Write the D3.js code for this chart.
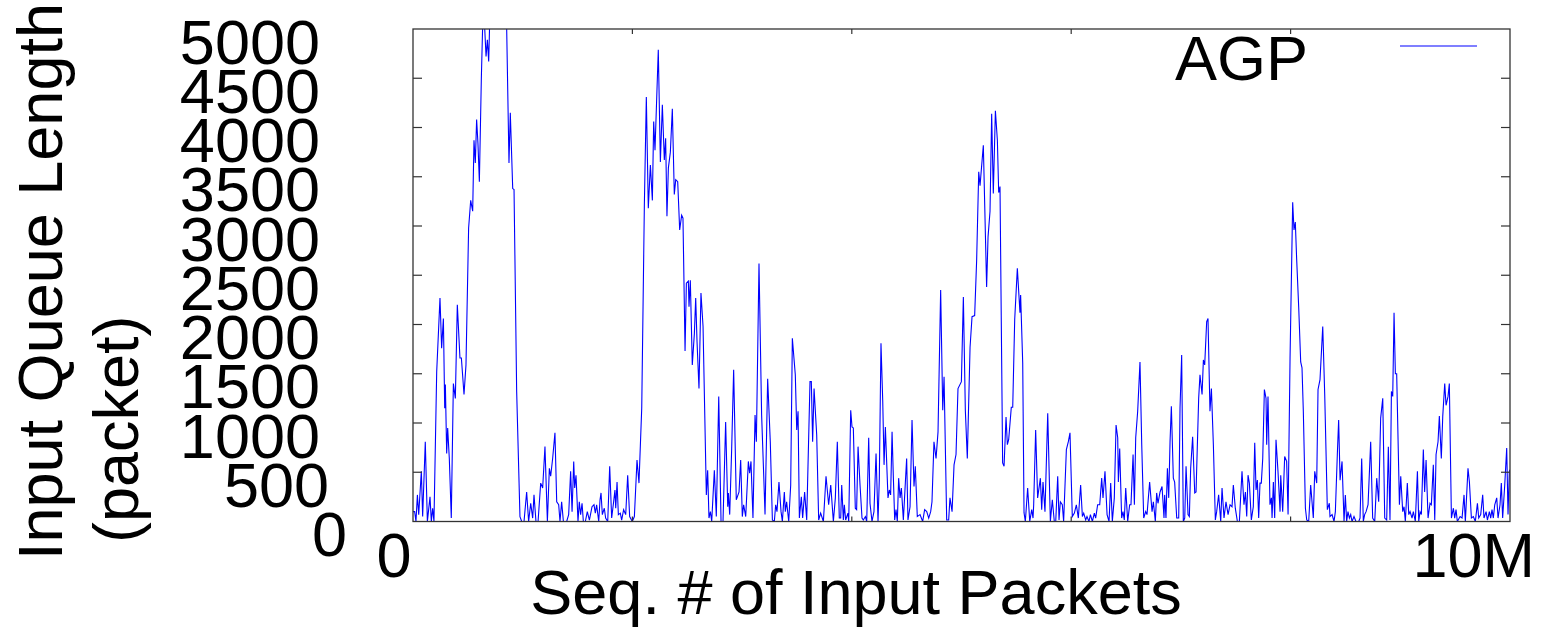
<!DOCTYPE html>
<html><head><meta charset="utf-8">
<script src="https://cdn.jsdelivr.net/npm/d3@7"></script>
<style>
html,body{margin:0;padding:0;background:#fff;}
svg{display:block;font-family:"Liberation Sans",Arial,sans-serif;}
</style></head>
<body><svg id="chart" width="1543" height="629"></svg>
<script>
// ---- data (sequence number in thousands of packets, queue length in packets) ----
const seriesName = "AGP";
const yTickValues = [0,500,1000,1500,2000,2500,3000,3500,4000,4500,5000];
const xTickValues = [0,2000,4000,6000,8000,10000];
const xTickLabels = {0:"0", 10000:"10M"};
const xTitle = "Seq. # of Input Packets";
const yTitleLines = ["Input Queue Length","(packet)"];
const agpPoints = [
[0,100],[15,100],[27,0],[40,270],[52,70],[76,510],[88,50],[112,810],[131,0],[155,250],[167,0],[179,135],[191,0],[216,1520],[246,2270],[261,1760],[277,2060],[289,1150],[295,1390],[307,690],[316,950],[331,640],[349,35],[368,1400],[386,1250],[404,2200],[428,1660],[441,1660],[465,1290],[483,1590],[507,2980],[526,3260],[544,3150],[556,3870],[568,3640],[580,4080],[592,3840],[605,3450],[623,4500],[641,5300],[666,4720],[678,4890],[690,4670],[702,5200],[740,5600],[790,5800],[830,5500],[854,5000],[875,3640],[887,4150],[909,3380],[921,3370],[945,1320],[975,50],[991,0],[1012,0],[1036,300],[1054,0],[1073,185],[1091,35],[1103,270],[1121,0],[1140,0],[1164,390],[1182,340],[1203,760],[1225,0],[1243,540],[1255,460],[1273,640],[1294,900],[1310,200],[1328,170],[1340,0],[1355,200],[1371,0],[1401,0],[1419,70],[1437,510],[1450,100],[1465,610],[1474,340],[1486,470],[1504,0],[1516,200],[1528,70],[1541,185],[1553,0],[1571,0],[1589,100],[1608,15],[1632,150],[1650,170],[1662,85],[1674,170],[1693,0],[1705,220],
[1714,290],[1726,70],[1744,135],[1756,35],[1775,0],[1793,560],[1811,35],[1829,200],[1841,320],[1848,135],[1860,400],[1872,70],[1890,85],[1902,15],[1920,120],[1939,70],[1957,470],[1975,50],[1999,0],[2018,50],[2042,625],[2060,390],[2085,1150],[2109,3210],[2127,4310],[2145,3180],[2164,3620],[2182,3260],[2194,4060],[2206,3770],[2236,4790],[2255,3650],[2273,4230],[2291,3670],[2303,3890],[2315,3100],[2328,3590],[2346,3750],[2364,4190],[2382,3320],[2395,3470],[2413,3450],[2431,2960],[2449,3110],[2461,3080],[2480,1730],[2492,2420],[2510,2440],[2516,2180],[2528,2450],[2546,1590],[2565,1910],[2577,2270],[2589,1830],[2607,1350],[2625,2320],[2644,1980],[2674,270],[2686,520],[2698,35],[2711,100],[2723,0],[2747,520],[2765,50],[2787,1270],[2808,0],[2826,0],[2850,1010],[2869,150],[2875,290],[2887,70],[2905,740],[2923,1540],[2947,220],[2972,300],[2987,625],[3002,50],[3014,170],[3033,50],[3057,610],[3069,490],[3081,610],[3099,35],[3118,1080],[3130,810],[3154,2620],[3178,1080],[3197,470],[3209,70],[3233,1450],[3257,810],[3276,15],[3294,0],[3306,170],[3318,100],[3336,400],[3355,100],[3367,0],[3385,300],
[3394,100],[3406,200],[3425,0],[3443,370],[3458,1860],[3485,1490],[3498,930],[3510,1120],[3522,35],[3540,250],[3552,35],[3570,300],[3589,15],[3619,1420],[3631,1420],[3643,810],[3656,1350],[3680,880],[3698,15],[3716,85],[3741,0],[3765,460],[3789,170],[3808,370],[3832,0],[3850,240],[3868,810],[3886,35],[3899,35],[3908,370],[3923,15],[3932,170],[3944,15],[3965,85],[3972,0],[3990,1130],[4002,960],[4014,950],[4032,135],[4044,120],[4057,760],[4075,370],[4093,35],[4105,15],[4124,50],[4136,0],[4154,850],[4166,185],[4184,0],[4202,100],[4221,690],[4239,0],[4251,440],[4266,1810],[4282,1220],[4294,575],[4306,960],[4330,240],[4342,320],[4354,270],[4367,910],[4379,440],[4391,15],[4403,120],[4415,0],[4427,440],[4440,240],[4452,340],[4470,15],[4488,390],[4500,640],[4512,15],[4531,150],[4549,1030],[4567,355],[4579,560],[4597,50],[4622,70],[4646,0],[4664,120],[4683,100],[4701,35],[4719,100],[4731,200],[4749,810],[4768,640],[4786,910],[4810,2350],[4829,1130],[4841,1470],[4865,15],[4883,15],[4895,240],[4914,100],[4932,575],[4950,680],[4968,1350],[4999,1420],[5017,2280],[5035,1130],[5053,640],[5078,1770],[5096,2080],[5120,2090],[5138,2650],[5157,3550],[5169,3410],[5199,3820],[5229,2380],[5242,2890],[5260,3150],[5275,4140],[5290,3330],[5309,4170],[5327,3870],[5339,3340],[5351,3400],[5375,595],[5388,560],[5406,1060],[5418,780],[5430,830],[5454,1160],[5467,1160],[5485,2050],[5509,2570],[5533,2120],[5539,2300],[5558,1610],[5570,90],[5582,0],
[5603,340],[5622,0],[5640,120],[5652,35],[5658,170],[5676,930],[5694,240],[5719,440],[5731,120],[5743,400],[5761,100],[5786,1100],[5810,0],[5828,220],[5846,0],[5859,0],[5877,460],[5889,15],[5901,200],[5919,170],[5931,0],[5956,730],[5974,810],[5989,900],[6010,50],[6029,85],[6047,170],[6065,35],[6086,370],[6102,50],[6114,85],[6132,15],[6144,50],[6162,0],[6175,70],[6193,0],[6211,85],[6223,35],[6241,170],[6260,170],[6278,440],[6290,240],[6308,510],[6327,70],[6345,0],[6360,390],[6375,0],[6393,240],[6409,980],[6424,850],[6430,400],[6442,740],[6460,35],[6472,100],[6484,15],[6497,340],[6515,0],[6533,170],[6545,170],[6564,680],[6576,170],[6588,850],[6606,1120],[6627,1620],[6643,780],[6661,35],[6679,100],[6691,70],[6715,400],[6737,100],[6749,200],
[6767,0],[6779,290],[6791,185],[6810,300],[6828,355],[6846,35],[6852,270],[6864,35],[6877,540],[6889,240],[6901,810],[6913,1170],[6931,440],[6943,400],[6962,35],[6980,35],[6992,1150],[7007,1690],[7022,0],[7035,35],[7047,560],[7065,70],[7077,50],[7089,540],[7107,860],[7126,290],[7138,300],[7162,1250],[7174,1490],[7193,1290],[7205,1640],[7217,1590],[7235,2030],[7247,2060],[7265,1120],[7278,1350],[7296,780],[7314,15],[7326,100],[7344,270],[7363,0],[7375,340],[7393,35],[7411,200],[7430,70],[7448,170],[7466,150],[7478,370],[7496,135],[7515,0],[7533,0],[7557,510],[7575,170],[7588,300],[7600,50],[7612,470],[7624,390],[7642,15],[7660,150],[7673,800],[7685,320],[7697,420],[7709,35],[7721,390],[7733,390],[7746,640],[7761,1340],[7776,1250],[7782,780],[7794,1270],[7812,170],[7825,240],[7831,35],[7843,400],[7855,35],[7867,830],[7885,510],[7904,100],[7910,470],[7928,100],[7946,660],[7964,610],[7977,70],[7995,1660],[8019,3240],[8031,2960],[8043,3040],[8055,2670],[8074,2170],[8092,1620],[8104,1560],[8116,1120],[8135,135],[8147,15],[8165,0],[8183,370],[8207,35],[8220,510],[8238,390],[8250,1340],[8268,1440],[8293,1980],[8311,1290],[8335,120],[8353,185],[8359,50],[8378,70],[8396,0],[8408,100],[8426,680],[8438,1030],
[8451,420],[8469,610],[8487,0],[8499,270],[8511,0],[8523,100],[8536,35],[8548,70],[8560,0],[8578,50],[8596,0],[8621,0],[8633,35],[8648,640],[8663,0],[8675,70],[8688,100],[8706,170],[8730,810],[8748,35],[8767,0],[8785,440],[8803,200],[8821,1050],[8840,1250],[8858,35],[8876,15],[8891,760],[8906,15],[8919,1320],[8931,1270],[8943,2120],[8955,1500],[8967,1500],[8992,170],[9004,460],[9022,100],[9034,150],[9046,0],[9064,390],[9077,70],[9089,100],[9107,35],[9119,100],[9137,0],[9156,510],[9168,0],[9180,100],[9192,70],[9210,730],[9222,300],[9235,625],[9253,35],[9271,185],[9283,170],[9301,575],[9314,15],[9326,680],[9344,810],[9356,1070],[9374,640],[9387,1070],[9405,1400],[9417,1180],[9435,1270],[9447,1400],[9466,35],[9484,135],[9496,35],[9508,120],[9520,0],[9545,50],[9563,35],[9581,270],[9593,0],[9617,540],[9630,400],[9648,35],[9666,50],[9684,0],[9703,185],[9715,35],[9733,70],[9751,270],[9763,35],[9782,100],[9794,15],[9812,100],[9824,35],[9836,120],[9848,35],[9861,170],[9879,240],[9891,35],[9909,170],[9921,390],[9933,35],[9952,370],[9970,745],[9982,70],[9994,510],[10000,525]
];

// ---- layout ----
const svg = d3.select("#chart");
const W = 1543, H = 629;
const m = {left:413, right:1510, top:29, bottom:521.5};
const FS = 63;
const axisColor = "#333333";
const lineColor = "#0000ff";

const x = d3.scaleLinear().domain([0,10000]).range([m.left, m.right]);
const y = d3.scaleLinear().domain([0,5000]).range([m.bottom, m.top]);
// the big tick labels sit a little below their ticks
const yLab = d3.scaleLinear().domain([0,5000]).range([m.bottom + 12, m.top + 12]);

svg.append("rect").attr("width",W).attr("height",H).attr("fill","#fff");

svg.append("defs").append("clipPath").attr("id","clip")
  .append("rect").attr("x",m.left).attr("y",m.top)
  .attr("width",m.right-m.left).attr("height",m.bottom-m.top);

// line
const line = d3.line().x(d=>x(d[0])).y(d=>y(d[1]));
svg.append("path").datum(agpPoints)
  .attr("clip-path","url(#clip)")
  .attr("d",line).attr("fill","none")
  .attr("stroke",lineColor).attr("stroke-width",1.1)
  .attr("stroke-linejoin","miter");

// frame
svg.append("rect").attr("x",m.left).attr("y",m.top)
  .attr("width",m.right-m.left).attr("height",m.bottom-m.top)
  .attr("fill","none").attr("stroke",axisColor).attr("stroke-width",1.3);

// y ticks (inward, both sides)
const yt = svg.append("g");
yTickValues.forEach(v=>{
  if (v===0 || v===5000) return;
  yt.append("line").attr("x1",m.left).attr("x2",m.left+9).attr("y1",y(v)).attr("y2",y(v))
    .attr("stroke",axisColor).attr("stroke-width",1.2);
  yt.append("line").attr("x1",m.right-9).attr("x2",m.right).attr("y1",y(v)).attr("y2",y(v))
    .attr("stroke",axisColor).attr("stroke-width",1.2);
});
// x ticks (inward, top & bottom)
xTickValues.forEach(v=>{
  if (v===0 || v===10000) return;
  yt.append("line").attr("x1",x(v)).attr("x2",x(v)).attr("y1",m.top).attr("y2",m.top+5)
    .attr("stroke",axisColor).attr("stroke-width",1.2);
  yt.append("line").attr("x1",x(v)).attr("x2",x(v)).attr("y1",m.bottom-5).attr("y2",m.bottom)
    .attr("stroke",axisColor).attr("stroke-width",1.2);
});

// y tick labels
svg.append("g").selectAll("text").data(yTickValues).join("text")
  .attr("x",d=>320 + 9*(4-String(d).length))
  .attr("y",d=>yLab(d))
  .attr("dy","0.36em")
  .attr("text-anchor","end")
  .attr("font-size",FS).attr("fill","#000")
  .text(d=>String(d));

// x tick labels
Object.keys(xTickLabels).forEach(k=>{
  const v = +k;
  const t = svg.append("text").attr("y",577).attr("font-size",FS).attr("fill","#000").text(xTickLabels[k]);
  if (v===0) t.attr("x",x(v)-19).attr("text-anchor","middle");
  else t.attr("x",x(v)+25).attr("text-anchor","end");
});

// x title
svg.append("text").attr("x",856).attr("y",614).attr("text-anchor","middle")
  .attr("font-size",FS).attr("fill","#000").text(xTitle);

// y title (two rotated lines)
svg.append("text").attr("transform","translate(62,560) rotate(-90)")
  .attr("text-anchor","start").attr("font-size",FS).attr("fill","#000").text(yTitleLines[0]);
svg.append("text").attr("transform","translate(138,543) rotate(-90)")
  .attr("text-anchor","start").attr("font-size",FS).attr("fill","#000").text(yTitleLines[1]);

// legend
svg.append("text").attr("x",1308).attr("y",80).attr("text-anchor","end")
  .attr("font-size",FS).attr("fill","#000").text(seriesName);
svg.append("line").attr("x1",1400).attr("x2",1477).attr("y1",46).attr("y2",46)
  .attr("stroke",lineColor).attr("stroke-width",1.1);
</script>
</body></html>
